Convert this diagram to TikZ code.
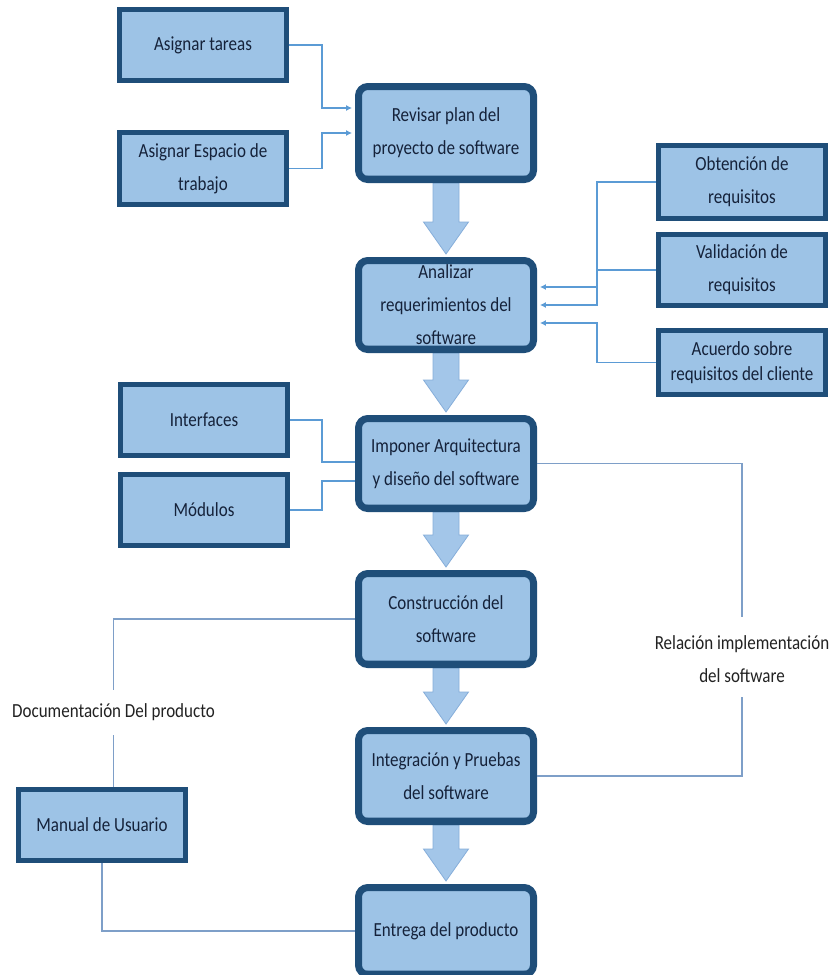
\documentclass[tikz,border=0pt]{standalone}
\usepackage{fontspec}
\setmainfont{Carlito}[FakeStretch=0.85]
\usetikzlibrary{calc,arrows.meta,backgrounds}
\definecolor{boxfill}{HTML}{9DC3E6}
\definecolor{boxdark}{HTML}{1F4E79}
\definecolor{boxtext}{HTML}{15223A}
\definecolor{lbltext}{HTML}{222222}
\definecolor{connblue}{HTML}{5B9BD5}
\definecolor{conngray}{HTML}{7E9FC8}
\definecolor{arrfill}{HTML}{A3C6E9}
\definecolor{arredge}{HTML}{86AEDA}
\tikzset{
  txt/.style={font=\fontsize{15}{24.75}\selectfont, align=center, inner sep=0pt},
  mainbox/.style={txt, rectangle, rounded corners=7pt, fill=boxfill, draw=boxdark,
    line width=5.25pt, text=boxtext, minimum width=131.25pt,
    path picture={\fill[boxdark] ([yshift=3pt]path picture bounding box.south west)
      rectangle (path picture bounding box.south east);}},
  sidebox/.style={txt, rectangle, fill=boxfill, draw=boxdark, line width=3.4pt,
    text=boxtext, minimum width=125.6pt, minimum height=53.6pt,
    path picture={\fill[boxdark] ([yshift=2.2pt]path picture bounding box.south west)
      rectangle (path picture bounding box.south east);
      \fill[boxdark] ([yshift=-2.4pt]path picture bounding box.north west)
      rectangle (path picture bounding box.north east);}},
  lbl/.style={txt, text=lbltext},
  conn/.style={draw=connblue, line width=1.2pt},
  conn2/.style={draw=conngray, line width=0.9pt},
  arr/.style={-{Latex[length=4.5pt,width=4.5pt]}, shorten >=2.2pt},
  bigarrow/.style={fill=arrfill, draw=arredge, line width=0.6pt}
}
\newcommand\flowarrow[2]{%
  \filldraw[bigarrow] ($(#1.south)+(-13,0)$) -- ($(#2.north)+(-13,-35)$)
    -- ($(#2.north)+(-22.5,-35)$) -- ($(#2.north)+(0,-3)$)
    -- ($(#2.north)+(22.5,-35)$) -- ($(#2.north)+(13,-35)$)
    -- ($(#1.south)+(13,0)$) -- cycle;}
\begin{document}
\begin{tikzpicture}[x=0.75pt,y=-0.75pt]
\useasboundingbox (0,0) rectangle (832,975);
% main column
\node[mainbox, minimum height=69.75pt] (rev) at (446,133) {Revisar plan del\\proyecto de software};
\node[mainbox, minimum height=66.75pt] (ana) at (446,305) {Analizar\\requerimientos del\\software};
\node[mainbox, minimum height=67.5pt] (imp) at (446,463.5) {Imponer Arquitectura\\y diseño del software};
\node[mainbox, minimum height=68.25pt] (con) at (446,619) {Construcción del\\software};
\node[mainbox, minimum height=68.25pt] (int) at (446,776) {Integración y Pruebas\\del software};
\node[mainbox, minimum height=65.25pt] (ent) at (446,931) {Entrega del producto};
% side boxes
\node[sidebox] (t1) at (203,45) {Asignar tareas};
\node[sidebox, minimum height=54.4pt] (t2) at (203,168.5) {Asignar Espacio de\\trabajo};
\node[sidebox, minimum height=55.1pt] (o1) at (742,182) {Obtención de\\requisitos};
\node[sidebox] (o2) at (742,270) {Validación de\\requisitos};
\node[sidebox, minimum height=48.4pt, font=\fontsize{15}{19}\selectfont] (o3) at (742,362.5) {Acuerdo sobre\\requisitos del cliente};
\node[sidebox] (i1) at (204,420) {Interfaces};
\node[sidebox] (m1) at (204,510) {Módulos};
\node[sidebox] (man) at (102,825) {Manual de Usuario};
% labels
\node[lbl] (rel) at (742,659) {Relación implementación\\del software};
\node[lbl] (doc) at (113.5,712) {Documentación Del producto};
% big arrows and background
\begin{scope}[on background layer]
\fill[white] (0,0) rectangle (832,975);
\flowarrow{rev}{ana}
\flowarrow{ana}{imp}
\flowarrow{imp}{con}
\flowarrow{con}{int}
\flowarrow{int}{ent}
\draw[conn2] ($(doc.center)+(0,23)$) -- (doc.center |- man.north);
\end{scope}
% connectors
\draw[conn,arr] (t1.east) -| (322,108) -- (rev.west |- 0,108);
\draw[conn,arr] (t2.east) -| (322,133) -- (rev.west);
\draw[conn,arr] (o1.west) -| (597,287) -- (ana.east |- 0,287);
\draw[conn,arr] (o2.west) -| (597,305) -- (ana.east);
\draw[conn,arr] (o3.west) -| (597,323) -- (ana.east |- 0,323);
\draw[conn] (i1.east) -| (322,462) -- (imp.west |- 0,462);
\draw[conn] (m1.east) -| (322,481) -- (imp.west |- 0,481);
\draw[conn2] (imp.east) -| ($(rel.center)+(0,-42)$);
\draw[conn2] ($(rel.center)+(0,38)$) |- (int.east);
\draw[conn2] (con.west) -| ($(doc.center)+(0,-22)$);
\draw[conn2] (man.south) |- (ent.west);
\end{tikzpicture}
\end{document}
